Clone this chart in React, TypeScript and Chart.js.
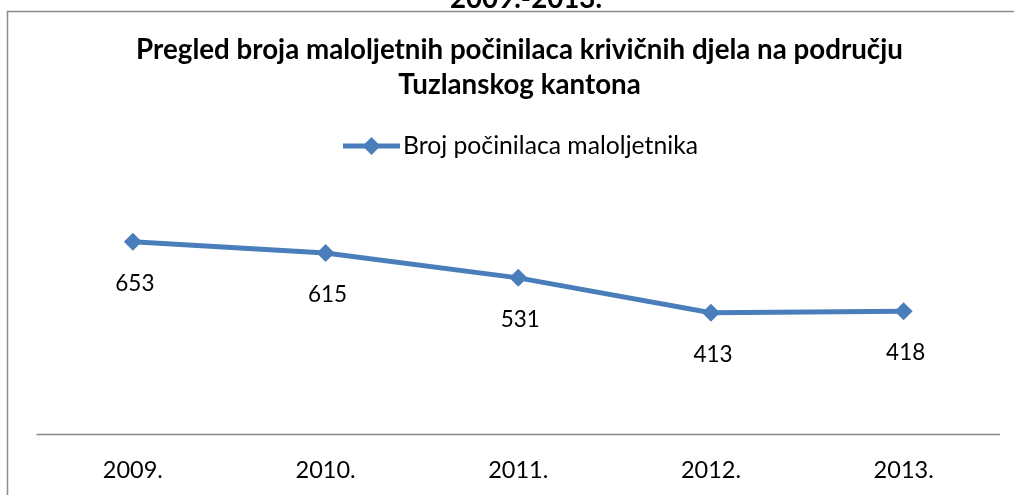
import React, { useEffect, useRef } from 'react';
import { Chart, registerables } from 'chart.js';

Chart.register(...registerables);

const CATEGORIES = ['2009.', '2010.', '2011.', '2012.', '2013.'];
const OFFENDERS = [653, 615, 531, 413, 418];
const SERIES_NAME = 'Broj počinilaca maloljetnika';
const TITLE_LINES = [
  'Pregled broja maloljetnih počinilaca krivičnih djela na području',
  'Tuzlanskog kantona',
];
const PERIOD_HEADING = '2009.-2013.';
const Y_MIN = 0;
const Y_MAX = 800;

const LINE_COLOR = '#4a7ebb';
const AXIS_COLOR = '#878787';
const FRAME_COLOR = '#8c8c8c';
const FONT_FAMILY = 'Lato, "Open Sans", sans-serif';

// font size at which a string spans the given width
function sizeFor(ctx: CanvasRenderingContext2D, text: string, weight: string, width: number) {
  ctx.save();
  ctx.font = `${weight} 100px ${FONT_FAMILY}`;
  const w = ctx.measureText(text).width;
  ctx.restore();
  return (100 * width) / w;
}

function drawText(
  ctx: CanvasRenderingContext2D,
  text: string,
  x: number,
  y: number,
  size: number,
  weight: string,
  align: CanvasTextAlign,
) {
  ctx.font = `${weight} ${size}px ${FONT_FAMILY}`;
  ctx.textAlign = align;
  ctx.textBaseline = 'alphabetic';
  ctx.fillText(text, x, y);
}

function diamond(ctx: CanvasRenderingContext2D, x: number, y: number, r: number) {
  ctx.beginPath();
  ctx.moveTo(x, y - r);
  ctx.lineTo(x + r, y);
  ctx.lineTo(x, y + r);
  ctx.lineTo(x - r, y);
  ctx.closePath();
  ctx.fill();
}

const decorPlugin = {
  id: 'decor',
  beforeDraw(chart: any) {
    const { ctx, width, height } = chart;
    ctx.save();
    ctx.fillStyle = '#ffffff';
    ctx.fillRect(0, 0, width, height);
    ctx.restore();
  },
  afterDraw(chart: any) {
    const { ctx, chartArea, scales, width, height } = chart;
    ctx.save();
    ctx.fillStyle = '#000';

    // page heading, mostly hidden above the chart frame
    const titleSize = sizeFor(ctx, TITLE_LINES[0], 'bold', 767);
    drawText(ctx, PERIOD_HEADING, 526, 7.5, titleSize, 'bold', 'center');

    // outer frame of the chart object
    ctx.fillStyle = '#fff';
    ctx.fillRect(0, 8.5, width, 4);
    ctx.strokeStyle = FRAME_COLOR;
    ctx.lineWidth = 1.5;
    ctx.beginPath();
    ctx.moveTo(7.5, height);
    ctx.lineTo(7.5, 11.5);
    ctx.lineTo(width, 11.5);
    ctx.stroke();

    // chart title
    ctx.fillStyle = '#000';
    drawText(ctx, TITLE_LINES[0], 519.5, 58.5, titleSize, 'bold', 'center');
    drawText(ctx, TITLE_LINES[1], 519.5, 93.5, titleSize, 'bold', 'center');

    // legend
    ctx.strokeStyle = LINE_COLOR;
    ctx.fillStyle = LINE_COLOR;
    ctx.lineWidth = 5;
    ctx.beginPath();
    ctx.moveTo(343, 146);
    ctx.lineTo(400, 146);
    ctx.stroke();
    diamond(ctx, 371.5, 146, 9);
    ctx.fillStyle = '#000';
    const legendSize = sizeFor(ctx, SERIES_NAME, 'normal', 295);
    drawText(ctx, SERIES_NAME, 403, 154, legendSize, 'normal', 'left');

    // category axis line
    ctx.strokeStyle = AXIS_COLOR;
    ctx.lineWidth = 1.5;
    ctx.beginPath();
    ctx.moveTo(chartArea.left, chartArea.bottom);
    ctx.lineTo(chartArea.right, chartArea.bottom);
    ctx.stroke();

    // category labels
    ctx.fillStyle = '#000';
    CATEGORIES.forEach((c, i) => {
      drawText(ctx, c, scales.x.getPixelForValue(i), 478, 23.5, 'normal', 'center');
    });

    // value labels under each point
    const meta = chart.getDatasetMeta(0);
    meta.data.forEach((pt: any, i: number) => {
      drawText(ctx, String(OFFENDERS[i]), pt.x + 2, pt.y + 49, 22.5, 'normal', 'center');
    });

    ctx.restore();
  },
};

export default function App() {
  const canvasRef = useRef<HTMLCanvasElement | null>(null);

  useEffect(() => {
    if (!canvasRef.current) return;
    const chart = new Chart(canvasRef.current, {
      type: 'line',
      data: {
        labels: CATEGORIES,
        datasets: [
          {
            label: SERIES_NAME,
            data: OFFENDERS,
            borderColor: LINE_COLOR,
            backgroundColor: LINE_COLOR,
            borderWidth: 5,
            pointStyle: 'rectRot',
            pointRadius: 9,
            pointBorderWidth: 0,
            pointBackgroundColor: LINE_COLOR,
            tension: 0,
            fill: false,
          },
        ],
      },
      options: {
        responsive: false,
        animation: false,
        devicePixelRatio: 1,
        layout: {
          padding: { left: 36.5, right: 14, top: 198.5, bottom: 60.5 },
        },
        plugins: {
          legend: { display: false },
          title: { display: false },
          tooltip: { enabled: false },
        },
        scales: {
          x: { display: false, offset: true },
          y: { display: false, min: Y_MIN, max: Y_MAX },
        },
      },
      plugins: [decorPlugin],
    });
    return () => chart.destroy();
  }, []);

  return (
    <div style={{ position: 'fixed', left: 0, top: 0, width: 1014, height: 495, overflow: 'hidden' }}>
      <canvas ref={canvasRef} width={1014} height={495} style={{ display: 'block' }} />
    </div>
  );
}
